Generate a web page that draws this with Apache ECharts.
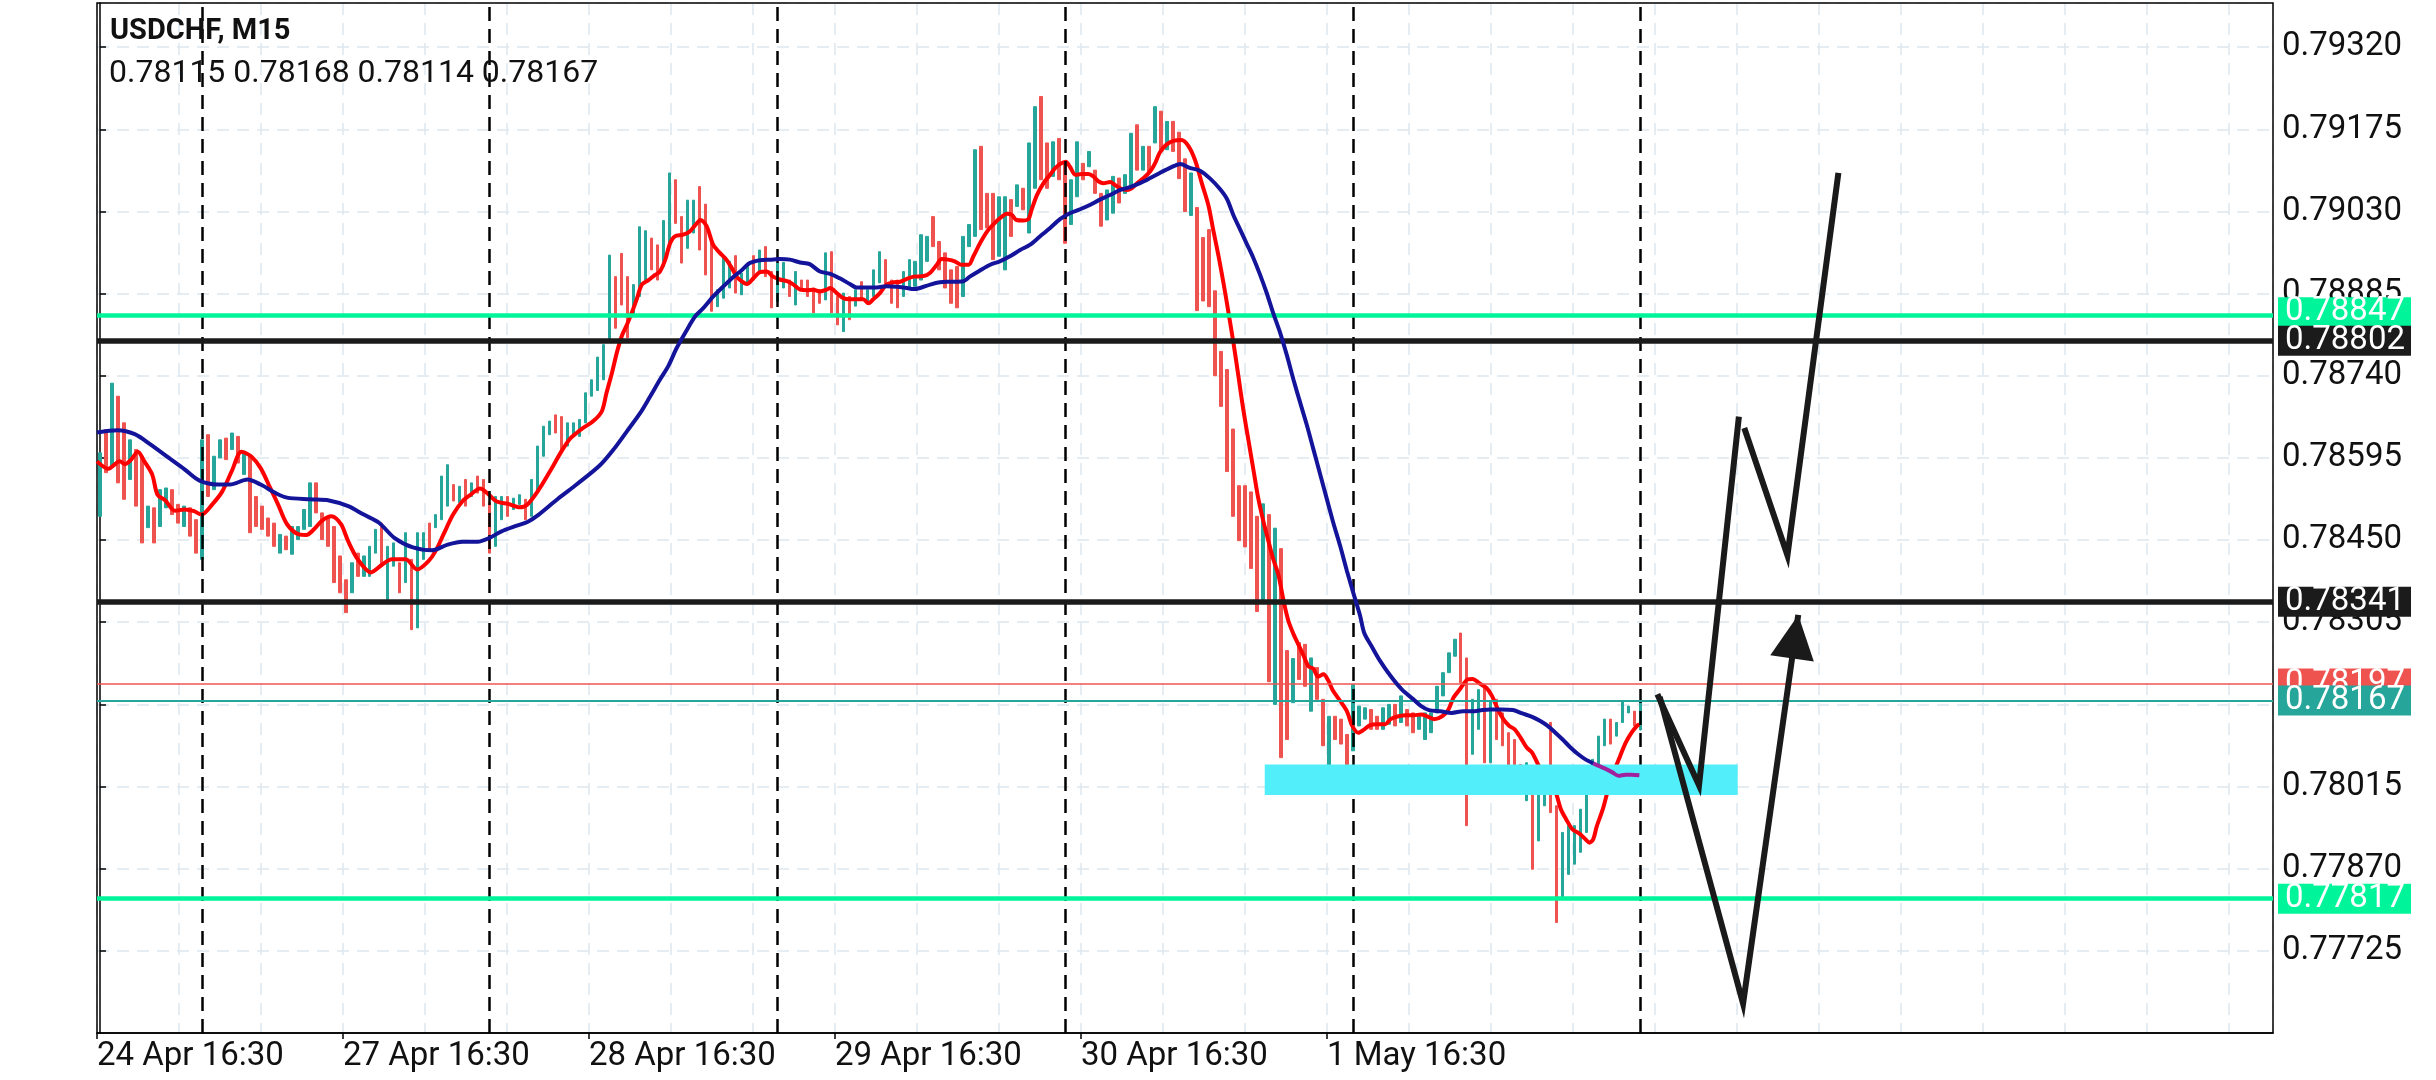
<!DOCTYPE html>
<html>
<head>
<meta charset="utf-8">
<script src="https://cdn.jsdelivr.net/npm/echarts@6/dist/echarts.min.js"></script>
<style>
html,body{margin:0;padding:0;background:#fff;}
#chart{width:2436px;height:1080px;}
</style>
</head>
<body>
<div id="chart"></div>
<script>
// ---------------- data ----------------
const symbolName = 'USDCHF, M15';
const xLabels = ['24 Apr 16:30', '27 Apr 16:30', '28 Apr 16:30', '29 Apr 16:30', '30 Apr 16:30', '1 May 16:30'];
const yTickStart = 0.77580;
const yTickStep = 0.00145;
const daySeparators = [17, 65, 113, 161, 209, 257];

const highs = [
0.78604,0.78645,0.78727,0.78704,0.78657,0.78627,0.78610,0.78598,0.78510,0.78507,
0.78539,0.78542,0.78539,0.78513,0.78510,0.78507,0.78486,0.78627,0.78636,0.78598,
0.78627,0.78630,0.78639,0.78633,0.78607,0.78598,0.78527,0.78510,0.78489,0.78480,
0.78460,0.78457,0.78474,0.78474,0.78504,0.78551,0.78551,0.78498,0.78492,0.78474,
0.78422,0.78380,0.78410,0.78427,0.78422,0.78439,0.78469,0.78480,0.78439,0.78445,
0.78410,0.78463,0.78416,0.78463,0.78463,0.78480,0.78495,0.78563,0.78583,0.78548,
0.78545,0.78557,0.78551,0.78563,0.78557,0.78516,0.78527,0.78527,0.78527,0.78524,
0.78530,0.78522,0.78557,0.78616,0.78651,0.78660,0.78671,0.78668,0.78657,0.78657,
0.78663,0.78710,0.78733,0.78773,0.78795,0.78953,0.78915,0.78956,0.78915,0.78901,
0.79003,0.78996,0.78983,0.78971,0.79014,0.79098,0.79086,0.79021,0.79050,0.79050,
0.79074,0.79043,0.78977,0.78892,0.78948,0.78942,0.78952,0.78921,0.78936,0.78952,
0.78962,0.78968,0.78924,0.78939,0.78940,0.78909,0.78924,0.78909,0.78909,0.78895,
0.78892,0.78957,0.78959,0.78880,0.78886,0.78880,0.78892,0.78906,0.78892,0.78927,
0.78959,0.78945,0.78909,0.78909,0.78924,0.78945,0.78942,0.78989,0.78986,0.79021,
0.78977,0.78957,0.78927,0.78933,0.78986,0.79007,0.79139,0.79145,0.79062,0.79062,
0.79056,0.79056,0.79051,0.79077,0.79071,0.79151,0.79215,0.79233,0.79151,0.79153,
0.79159,0.79115,0.79086,0.79153,0.79115,0.79136,0.79103,0.79062,0.79068,0.79092,
0.79089,0.79095,0.79168,0.79183,0.79145,0.79145,0.79215,0.79207,0.79189,0.79189,
0.79170,0.79123,0.79098,0.79037,0.78984,0.78998,0.78890,0.78783,0.78751,0.78646,
0.78546,0.78546,0.78535,0.78492,0.78514,0.78495,0.78471,0.78435,0.78255,0.78241,
0.78269,0.78266,0.78242,0.78225,0.78169,0.78139,0.78139,0.78134,0.78107,0.78195,
0.78157,0.78154,0.78151,0.78139,0.78154,0.78160,0.78160,0.78175,0.78151,0.78145,
0.78142,0.78145,0.78145,0.78192,0.78216,0.78251,0.78275,0.78286,0.78242,0.78169,
0.78186,0.78189,0.78166,0.78169,0.78145,0.78110,0.78098,0.78054,0.78057,0.78045,
0.78004,0.78040,0.78128,0.77981,0.77934,0.77946,0.77946,0.77975,0.78016,0.78063,
0.78104,0.78134,0.78134,0.78128,0.78166,0.78157,0.78148,0.78168
];
const lows = [
0.78492,0.78569,0.78580,0.78551,0.78522,0.78557,0.78510,0.78445,0.78472,0.78445,
0.78474,0.78507,0.78495,0.78480,0.78474,0.78457,0.78427,0.78416,0.78527,0.78539,
0.78595,0.78592,0.78610,0.78586,0.78566,0.78463,0.78474,0.78469,0.78457,0.78439,
0.78427,0.78433,0.78425,0.78451,0.78469,0.78474,0.78498,0.78451,0.78439,0.78375,
0.78357,0.78322,0.78357,0.78386,0.78386,0.78386,0.78427,0.78404,0.78345,0.78404,
0.78357,0.78375,0.78292,0.78295,0.78416,0.78433,0.78472,0.78486,0.78510,0.78519,
0.78516,0.78510,0.78527,0.78533,0.78510,0.78427,0.78439,0.78486,0.78492,0.78504,
0.78513,0.78486,0.78492,0.78539,0.78598,0.78636,0.78639,0.78604,0.78616,0.78633,
0.78633,0.78657,0.78704,0.78714,0.78733,0.78804,0.78824,0.78865,0.78807,0.78848,
0.78880,0.78909,0.78927,0.78909,0.78933,0.78971,0.79009,0.78939,0.78965,0.78992,
0.78962,0.78918,0.78854,0.78862,0.78877,0.78895,0.78886,0.78883,0.78901,0.78909,
0.78921,0.78915,0.78860,0.78871,0.78895,0.78880,0.78865,0.78892,0.78880,0.78851,
0.78868,0.78874,0.78851,0.78830,0.78818,0.78839,0.78863,0.78874,0.78868,0.78880,
0.78904,0.78898,0.78868,0.78860,0.78880,0.78895,0.78898,0.78909,0.78942,0.78968,
0.78927,0.78895,0.78868,0.78860,0.78880,0.78968,0.78986,0.78998,0.79001,0.78945,
0.78951,0.78927,0.78986,0.79039,0.79033,0.78992,0.79071,0.79086,0.79071,0.79092,
0.79086,0.78974,0.79007,0.79056,0.79086,0.79109,0.79062,0.79004,0.79015,0.79027,
0.79045,0.79062,0.79074,0.79103,0.79103,0.79098,0.79151,0.79139,0.79139,0.79136,
0.79088,0.79030,0.79023,0.78855,0.78872,0.78862,0.78740,0.78686,0.78571,0.78492,
0.78449,0.78438,0.78400,0.78324,0.78345,0.78200,0.78160,0.78066,0.78098,0.78163,
0.78204,0.78192,0.78148,0.78169,0.78087,0.78042,0.78098,0.78090,0.78051,0.78078,
0.78122,0.78134,0.78116,0.78116,0.78116,0.78125,0.78122,0.78128,0.78122,0.78110,
0.78116,0.78098,0.78110,0.78145,0.78175,0.78216,0.78245,0.78198,0.77946,0.78072,
0.78116,0.78057,0.78057,0.78098,0.78087,0.78051,0.78051,0.78034,0.77990,0.77869,
0.77919,0.77981,0.77969,0.77775,0.77819,0.77860,0.77878,0.77899,0.77934,0.78022,
0.78051,0.78087,0.78090,0.78104,0.78128,0.78145,0.78122,0.78114
];
const ups = [
1,0,1,0,0,1,0,0,1,0, 1,1,0,0,1,0,0,1,0,1, 1,0,1,0,1,0,0,0,0,0, 1,0,1,1,1,1,0,0,0,0,
0,0,1,0,1,1,1,0,1,1, 0,1,0,1,1,0,1,1,1,0, 1,0,1,0,0,0,1,1,0,1, 1,0,1,1,1,1,0,0,1,1,
1,1,1,1,1,1,0,0,0,1, 1,1,0,0,1,1,0,0,1,1, 0,0,0,1,1,1,0,1,1,0, 1,0,0,1,1,0,1,0,0,0,
0,1,0,0,1,0,1,0,1,1, 1,0,0,0,1,1,1,1,1,0, 0,0,0,0,1,1,1,0,0,0, 1,1,0,1,0,1,1,0,0,1,
0,0,1,1,0,1,0,0,1,1, 0,1,1,0,1,0,1,0,1,0, 0,0,1,0,0,0,0,0,0,0, 0,0,0,0,1,0,1,0,0,1,
0,0,1,0,0,1,0,0,0,1, 1,1,0,0,1,1,0,1,0,0, 1,1,1,1,1,1,1,0,0,1, 1,0,1,0,0,0,0,0,1,0,
1,1,0,0,1,1,1,1,1,1, 1,1,0,1,1,1,0,1
];
const lastBar = { open: 0.78115, high: 0.78168, low: 0.78114, close: 0.78167 };

// fast moving average (red), [slot, price]
const maFast = [
[-0.5,0.78589],[1.4,0.78576],[3.3,0.78589],[4.2,0.78584],[5.2,0.78592],[6.3,0.78606],[7.4,0.78589],[8.7,0.78566],
[9.6,0.78530],[10.9,0.78520],[12.5,0.78502],[14.1,0.78504],[15.7,0.78501],[16.9,0.78495],[18.8,0.78514],[20.4,0.78536],
[22.0,0.78572],[23.6,0.78606],[25.2,0.78598],[26.8,0.78577],[28.4,0.78542],[29.7,0.78513],[31.2,0.78478],[33.2,0.78460],
[34.4,0.78459],[35.7,0.78469],[37.0,0.78484],[38.6,0.78492],[40.2,0.78478],[41.4,0.78448],[43.0,0.78416],[45.2,0.78393],
[47.1,0.78407],[48.7,0.78416],[51.0,0.78416],[52.9,0.78398],[54.8,0.78413],[56.0,0.78431],[57.3,0.78460],[58.9,0.78495],
[60.5,0.78519],[61.8,0.78530],[63.4,0.78541],[64.6,0.78533],[66.2,0.78518],[68.1,0.78514],[70.0,0.78508],[71.3,0.78513],
[73.2,0.78539],[75.1,0.78572],[77.0,0.78607],[78.4,0.78629],[79.5,0.78639],[80.6,0.78648],[82.3,0.78660],[83.7,0.78677],
[84.5,0.78710],[85.4,0.78745],[86.2,0.78780],[87.0,0.78809],[87.9,0.78830],[88.7,0.78851],[89.5,0.78874],[90.4,0.78901],
[91.5,0.78909],[92.6,0.78918],[93.4,0.78924],[94.3,0.78945],[95.1,0.78974],[95.9,0.78986],[97.3,0.78989],[98.4,0.78995],
[99.3,0.79006],[100.2,0.79015],[101.2,0.79004],[102.3,0.78971],[103.4,0.78957],[104.5,0.78945],[105.4,0.78930],[106.2,0.78915],
[107.0,0.78907],[107.9,0.78902],[109.0,0.78912],[110.1,0.78923],[111.2,0.78924],[112.3,0.78915],[113.4,0.78910],[114.6,0.78907],
[115.7,0.78901],[116.8,0.78892],[117.9,0.78891],[119.0,0.78892],[120.1,0.78889],[121.2,0.78892],[121.8,0.78895],[122.9,0.78886],
[124.0,0.78877],[125.1,0.78875],[127.3,0.78875],[128.2,0.78868],[129.0,0.78875],[130.1,0.78886],[131.2,0.78901],[132.4,0.78905],
[133.5,0.78906],[134.6,0.78911],[135.7,0.78915],[137.4,0.78916],[138.5,0.78922],[139.6,0.78936],[140.4,0.78946],[141.5,0.78945],
[142.6,0.78942],[143.7,0.78936],[144.9,0.78936],[145.7,0.78951],[146.8,0.78974],[148.0,0.78995],[149.0,0.79007],[150.1,0.79018],
[151.3,0.79026],[152.1,0.79024],[152.9,0.79015],[154.0,0.79014],[154.9,0.79017],[155.4,0.79033],[156.3,0.79059],[157.4,0.79080],
[158.5,0.79095],[159.3,0.79106],[160.2,0.79114],[161.1,0.79118],[161.8,0.79109],[162.7,0.79095],[163.8,0.79096],[164.9,0.79096],
[165.7,0.79092],[166.6,0.79083],[167.4,0.79080],[168.5,0.79082],[169.3,0.79077],[170.2,0.79071],[171.3,0.79068],[172.1,0.79071],
[173.0,0.79080],[174.1,0.79089],[175.2,0.79101],[176.0,0.79115],[176.8,0.79134],[177.9,0.79148],[179.2,0.79155],[180.4,0.79156],
[181.6,0.79145],[182.7,0.79120],[183.8,0.79080],[184.9,0.79041],[185.7,0.78998],[186.6,0.78951],[187.4,0.78905],[188.2,0.78855],
[189.1,0.78797],[189.9,0.78740],[190.7,0.78682],[191.6,0.78625],[192.4,0.78575],[193.2,0.78525],[194.1,0.78482],[194.9,0.78449],
[195.7,0.78417],[196.6,0.78388],[197.4,0.78345],[198.2,0.78309],[199.1,0.78284],[199.9,0.78266],[200.7,0.78248],[201.6,0.78227],
[202.4,0.78223],[203.2,0.78209],[204.1,0.78213],[204.9,0.78202],[205.7,0.78184],[206.9,0.78166],[208.0,0.78148],[208.9,0.78122],
[209.9,0.78110],[210.9,0.78116],[211.8,0.78123],[213.1,0.78125],[214.4,0.78125],[215.3,0.78134],[216.6,0.78139],[217.9,0.78141],
[219.1,0.78141],[220.4,0.78142],[221.4,0.78139],[222.6,0.78134],[223.9,0.78139],[224.9,0.78150],[225.8,0.78172],[226.8,0.78186],
[227.4,0.78195],[228.1,0.78204],[229.0,0.78205],[230.0,0.78198],[231.3,0.78189],[232.2,0.78175],[233.2,0.78151],[234.1,0.78134],
[235.1,0.78122],[236.0,0.78116],[237.0,0.78101],[238.0,0.78084],[238.9,0.78075],[239.9,0.78054],[240.8,0.78034],[241.8,0.78025],
[242.7,0.78010],[243.7,0.77975],[244.6,0.77957],[245.6,0.77940],[246.9,0.77931],[247.8,0.77922],[248.5,0.77916],[249.1,0.77922],
[249.7,0.77945],[250.7,0.77975],[251.6,0.78010],[252.6,0.78042],[253.6,0.78069],[254.5,0.78092],[255.5,0.78110],[256.4,0.78122],
[256.8,0.78125]
];
// slow moving average (blue), [slot, price]
const maSlow = [
[-0.5,0.78640],[2.9,0.78644],[5.8,0.78637],[8.4,0.78619],[11.5,0.78595],[14.1,0.78575],[16.6,0.78555],[19.8,0.78548],
[21.7,0.78548],[24.6,0.78557],[26.8,0.78548],[29.3,0.78533],[31.2,0.78525],[35.1,0.78522],[38.2,0.78520],[41.4,0.78510],
[44.0,0.78495],[46.5,0.78481],[49.1,0.78454],[52.2,0.78437],[55.4,0.78432],[58.0,0.78442],[60.5,0.78447],[63.0,0.78447],
[65.0,0.78454],[66.9,0.78465],[69.4,0.78475],[71.3,0.78482],[73.2,0.78495],[76.4,0.78523],[79.6,0.78549],[83.4,0.78582],
[85.9,0.78613],[87.9,0.78642],[90.1,0.78674],[91.8,0.78704],[93.4,0.78733],[94.8,0.78757],[96.2,0.78789],[97.9,0.78821],
[99.3,0.78845],[100.6,0.78859],[102.3,0.78880],[104.0,0.78898],[105.7,0.78915],[106.8,0.78924],[108.4,0.78939],[110.1,0.78944],
[111.8,0.78945],[113.4,0.78946],[115.1,0.78945],[116.8,0.78940],[118.4,0.78937],[120.1,0.78924],[121.8,0.78920],[123.4,0.78912],
[125.1,0.78902],[126.2,0.78896],[129.6,0.78896],[131.2,0.78898],[132.9,0.78897],[134.6,0.78895],[135.7,0.78893],[136.8,0.78895],
[138.5,0.78901],[140.1,0.78905],[141.8,0.78906],[144.0,0.78907],[145.1,0.78915],[146.8,0.78926],[148.5,0.78936],[150.1,0.78942],
[151.8,0.78951],[153.5,0.78962],[155.1,0.78971],[156.8,0.78986],[158.5,0.79001],[160.2,0.79017],[161.8,0.79027],[163.5,0.79034],
[165.2,0.79042],[166.8,0.79051],[168.5,0.79059],[170.2,0.79068],[171.8,0.79073],[173.5,0.79080],[175.2,0.79089],[176.8,0.79098],
[178.5,0.79107],[180.2,0.79114],[181.8,0.79107],[183.5,0.79102],[185.2,0.79088],[186.8,0.79070],[188.0,0.79052],[189.1,0.79023],
[190.2,0.78998],[191.3,0.78973],[192.4,0.78948],[193.5,0.78919],[194.6,0.78887],[195.7,0.78851],[196.9,0.78815],[198.0,0.78776],
[199.1,0.78733],[200.2,0.78693],[201.3,0.78654],[202.4,0.78611],[203.5,0.78568],[204.6,0.78525],[205.7,0.78482],[206.9,0.78439],
[208.0,0.78396],[209.1,0.78356],[210.2,0.78317],[210.9,0.78286],[212.1,0.78263],[213.4,0.78239],[215.3,0.78210],[217.2,0.78186],
[219.1,0.78169],[220.4,0.78157],[221.7,0.78150],[223.6,0.78148],[225.5,0.78145],[227.4,0.78148],[229.3,0.78148],[230.6,0.78150],
[231.9,0.78151],[233.8,0.78151],[235.7,0.78150],[237.3,0.78144],[238.9,0.78138],[240.2,0.78131],[241.5,0.78122],[242.7,0.78111],
[244.0,0.78098],[245.3,0.78084],[246.6,0.78072],[247.8,0.78063],[249.1,0.78056]
];
const maSlowTail = [
[249.1,0.78056],[251.0,0.78047],[252.3,0.78040],[253.3,0.78034],[254.5,0.78036],[255.5,0.78036],[256.8,0.78035]
];

// horizontal levels
const levelPrices = [0.78847, 0.78802, 0.78341, 0.78197, 0.78167, 0.77817];
const levelKinds  = ['green', 'black', 'black', 'ask', 'bid', 'green'];

// drawn objects
const zoneBox = [194.3, 0.78054, 273.2, 0.78000];       // slot0, top price, slot1, bottom price
const pathUpper1 = [[259.8, 0.78178], [266.75, 0.78017], [273.4, 0.78668]];
const pathUpper2 = [[274.3, 0.78648], [281.5, 0.78423], [290.0, 0.79098]];
const pathLower  = [[260.2, 0.78173], [274.1, 0.77632], [283.3, 0.78318]];

// ---------------- chart ----------------
const SLOTS = 363;
const GRID_STEP = 13.679;
const FONT = 'Roboto';
const UP = '#26a69a', DOWN = '#ef5350';

const slotNames = Array.from({ length: SLOTS }, (_, i) => String(i));
const candles = highs.map((h, i) => ups[i] ? [lows[i], h, lows[i], h] : [h, lows[i], lows[i], h]);
candles[candles.length - 1] = [lastBar.open, lastBar.close, lastBar.low, lastBar.high];
const ohlcText = [lastBar.open, lastBar.high, lastBar.low, lastBar.close].map(v => v.toFixed(5)).join(' ');
const labelSlots = xLabels.map((_, j) => -0.5 + 3 * j * GRID_STEP);

const kindStyle = {
  green: { line: '#00f59b', width: 4.5, bg: '#00f59b' },
  black: { line: '#1b1b1b', width: 5.5, bg: '#1b1b1b' },
  ask:   { line: '#ef5350', width: 1.5, bg: '#ef5350' },
  bid:   { line: '#26a69a', width: 2, bg: '#26a69a' }
};
const levelData = levelPrices.map((p, i) => {
  const s = kindStyle[levelKinds[i]];
  return {
    yAxis: p,
    lineStyle: { color: s.line, width: s.width, type: 'solid' },
    label: {
      show: true, position: 'end', distance: 5,
      formatter: () => p.toFixed(5),
      backgroundColor: s.bg, color: '#fff',
      fontFamily: FONT, fontSize: 33, lineHeight: 30,
      padding: [0, 6, 0, 7], width: 120,
      offset: i === 0 ? [0, -3] : [0, 0]
    }
  };
});

const chart = echarts.init(document.getElementById('chart'), null, { width: 2436, height: 1080 });

const option = {
  animation: false,
  backgroundColor: '#ffffff',
  title: [
    { text: symbolName, left: 110, top: 17, padding: 0,
      textStyle: { fontFamily: FONT, fontWeight: 'bold', fontSize: 29, color: '#111' } },
    { text: ohlcText, left: 109, top: 58, padding: 0,
      textStyle: { fontFamily: FONT, fontWeight: 'normal', fontSize: 32, color: '#111' } }
  ],
  grid: {
    left: 97, right: 163, top: 3, bottom: 47, z: 1,
    show: true, borderColor: '#000', borderWidth: 1.5,
    containLabel: false, outerBoundsMode: 'none'
  },
  xAxis: [
    { type: 'category', data: slotNames, boundaryGap: true, show: false },
    { type: 'value', min: -0.5, max: SLOTS - 0.5, interval: GRID_STEP, position: 'bottom',
      axisLine: { show: false }, axisTick: { show: false }, axisLabel: { show: false },
      splitLine: { show: true, lineStyle: { color: '#dde7ee', width: 1.5, type: [12, 8] } } },
    { type: 'value', min: -0.5, max: SLOTS - 0.5, position: 'bottom',
      axisLine: { show: true, lineStyle: { color: '#000', width: 1.5 } },
      axisTick: { show: true, customValues: labelSlots, length: 6, lineStyle: { color: '#000', width: 1.5 } },
      axisLabel: {
        customValues: labelSlots, align: 'left', margin: 7,
        fontFamily: FONT, fontSize: 33, color: '#111',
        formatter: (v) => {
          const j = labelSlots.findIndex(s => Math.abs(s - v) < 1e-6);
          return j >= 0 ? xLabels[j] : '';
        }
      },
      splitLine: { show: false } }
  ],
  yAxis: {
    type: 'value', position: 'right',
    min: yTickStart, max: 0.79398, interval: yTickStep,
    axisLine: { show: true, lineStyle: { color: '#000', width: 1.5 } },
    axisTick: { show: true, length: 6, lineStyle: { color: '#000', width: 1.5 } },
    axisLabel: { showMinLabel: false, showMaxLabel: false, margin: 9,
      fontFamily: FONT, fontSize: 33, color: '#111',
      formatter: v => v.toFixed(5) },
    splitLine: { show: true, lineStyle: { color: '#dde7ee', width: 1.5, type: [12, 8] } }
  },
  series: [
    { name: 'separators', type: 'line', xAxisIndex: 2, data: [], z: 1, silent: true,
      markLine: { silent: true, symbol: ['none', 'none'], animation: false, precision: 5,
        label: { show: false },
        lineStyle: { color: '#000', width: 2.5, type: [14, 8] },
        data: daySeparators.map(v => ({ xAxis: v })) } },
    { name: 'candles', type: 'candlestick', xAxisIndex: 0, data: candles, z: 2, silent: true,
      barWidth: 3,
      itemStyle: { color: UP, color0: DOWN, borderColor: UP, borderColor0: DOWN, borderWidth: 1 } },
    { name: 'levels', type: 'line', xAxisIndex: 2, data: [], z: 3, silent: true,
      markLine: { silent: true, symbol: ['none', 'none'], animation: false, precision: 5, data: levelData } },
    { name: 'maFast', type: 'line', xAxisIndex: 2, data: maFast, z: 4, silent: true,
      showSymbol: false, smooth: 0.3, lineStyle: { color: '#ff0000', width: 4 } },
    { name: 'zone', type: 'custom', xAxisIndex: 2, data: [zoneBox], z: 5, silent: true,
      renderItem: (params, api) => {
        const a = api.coord([api.value(0), api.value(1)]);
        const b = api.coord([api.value(2), api.value(3)]);
        return { type: 'rect', shape: { x: a[0], y: a[1], width: b[0] - a[0], height: b[1] - a[1] },
          style: { fill: '#52effa', blend: 'multiply' } };
      } },
    { name: 'maSlow', type: 'line', xAxisIndex: 2, data: maSlow, z: 6, silent: true,
      showSymbol: false, smooth: 0.3, lineStyle: { color: '#14149b', width: 4 } },
    { name: 'maSlowTail', type: 'line', xAxisIndex: 2, data: maSlowTail, z: 6, silent: true,
      showSymbol: false, smooth: 0.3, lineStyle: { color: '#a0209e', width: 4 } },
    { name: 'upper1', type: 'line', xAxisIndex: 2, data: pathUpper1, z: 7, silent: true,
      showSymbol: false, lineStyle: { color: '#1a1a1a', width: 6, cap: 'butt', join: 'miter' } },
    { name: 'upper2', type: 'line', xAxisIndex: 2, data: pathUpper2, z: 7, silent: true,
      showSymbol: false, lineStyle: { color: '#1a1a1a', width: 6, cap: 'butt', join: 'miter' } },
    { name: 'lower', type: 'line', xAxisIndex: 2, data: pathLower, z: 7, silent: true,
      showSymbol: false, lineStyle: { color: '#1a1a1a', width: 6, cap: 'butt', join: 'miter' } },
    { name: 'arrowHead', type: 'custom', xAxisIndex: 2, z: 8, silent: true,
      data: [[pathLower[2][0], pathLower[2][1], pathLower[1][0], pathLower[1][1]]],
      renderItem: (params, api) => {
        const tip = api.coord([api.value(0), api.value(1)]);
        const from = api.coord([api.value(2), api.value(3)]);
        const dx = tip[0] - from[0], dy = tip[1] - from[1];
        const len = Math.hypot(dx, dy), ux = dx / len, uy = dy / len;
        const L = 44, W = 22;
        const bx = tip[0] - ux * L, by = tip[1] - uy * L;
        return { type: 'polygon',
          shape: { points: [tip, [bx - uy * W, by + ux * W], [bx + uy * W, by - ux * W]] },
          style: { fill: '#1a1a1a' } };
      } }
  ]
};
chart.setOption(option);
</script>
</body>
</html>
